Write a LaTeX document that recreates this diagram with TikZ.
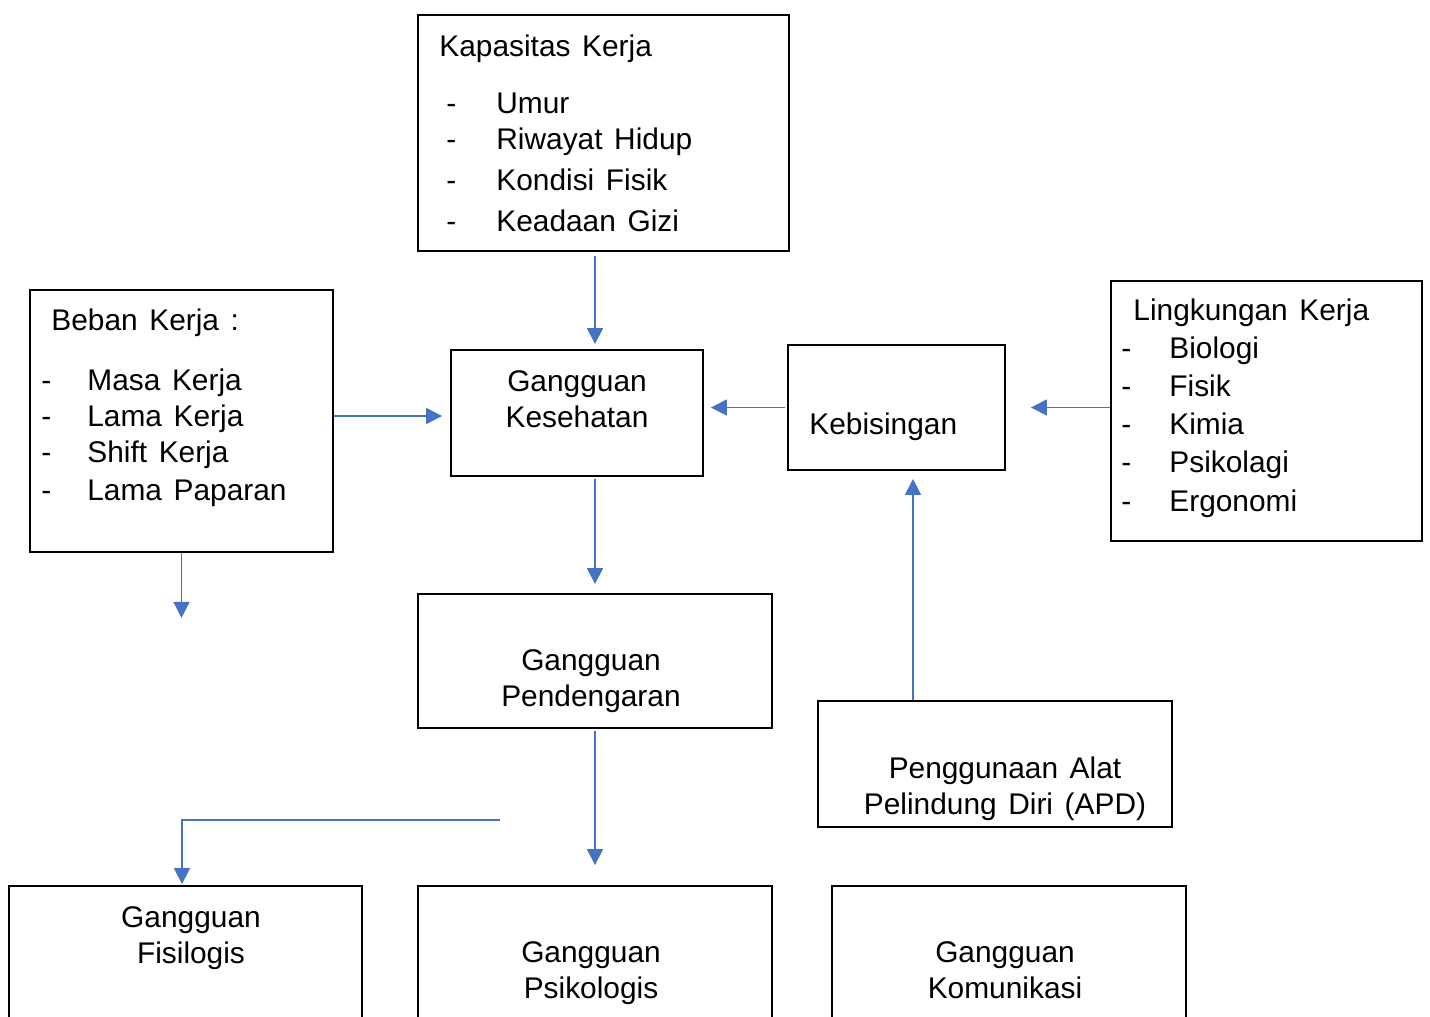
\documentclass[tikz,border=0pt]{standalone}
\usepackage{fontspec}
\setmainfont{Liberation Sans}[WordSpace=1.4]
\usetikzlibrary{positioning, arrows.meta}
\definecolor{arrblue}{HTML}{4472C4}
\tikzset{
    box/.style={rectangle, draw=black, line width=1.1pt, inner sep=0pt},
    txt/.style={font=\fontsize{17}{20.5}\selectfont, inner sep=0pt},
    arr/.style={draw=arrblue, line width=0.9pt, -{Triangle[length=0.32cm, width=0.32cm]}},
}
\newcommand{\dashitem}[2][0.96cm]{\makebox[#1][l]{-}#2}

\begin{document}
\begin{tikzpicture}[x=0.02cm, y=-0.02cm]
        \clip (0,0) rectangle (1430,1017);
        % boxes
        \node [box, minimum width=7.42cm, minimum height=4.72cm] (kap) at (603.5,133) {};
        \node [box, minimum width=6.06cm, minimum height=5.24cm] (beban) at (181.5,421) {};
        \node [box, minimum width=5.04cm, minimum height=2.52cm] (kes) at (577,413) {};
        \node [box, minimum width=4.34cm, minimum height=2.5cm] (bising) at (896.5,407.5) {};
        \node [box, minimum width=6.22cm, minimum height=5.2cm] (ling) at (1266.5,411) {};
        \node [box, minimum width=7.08cm, minimum height=2.68cm] (dengar) at (595,661) {};
        \node [box, minimum width=7.08cm, minimum height=2.52cm] (apd) at (995,764) {};
        \node [box, minimum width=7.06cm, minimum height=3.2cm] (fisio) at (185.5,966) {};
        \node [box, minimum width=7.08cm, minimum height=3.2cm] (psiko) at (595,966) {};
        \node [box, minimum width=7.08cm, minimum height=3.2cm] (komun) at (1009,966) {};
        % texts
        \node [txt, align=left, anchor=north west] (kapT) at ([xshift=0.44cm, yshift=-0.4cm]kap.north west)
            {Kapasitas Kerja\\[0.42cm]
             \hspace*{0.14cm}\dashitem[1cm]{Umur}\\
             \hspace*{0.14cm}\dashitem[1cm]{Riwayat Hidup}\\[0.1cm]
             \hspace*{0.14cm}\dashitem[1cm]{Kondisi Fisik}\\[0.1cm]
             \hspace*{0.14cm}\dashitem[1cm]{Keadaan Gizi}};
        \node [txt, align=left, anchor=north west] (bebanT) at ([xshift=0.24cm, yshift=-0.38cm]beban.north west)
            {\hspace*{0.2cm}Beban Kerja :\\[0.48cm]
             \dashitem[0.92cm]{Masa Kerja}\\
             \dashitem[0.92cm]{Lama Kerja}\\
             \dashitem[0.92cm]{Shift Kerja}\\[0.04cm]
             \dashitem[0.92cm]{Lama Paparan}};
        \node [txt, align=left, anchor=north west] (lingT) at ([xshift=0.22cm, yshift=-0.36cm]ling.north west)
            {\hspace*{0.24cm}Lingkungan Kerja\\[0.04cm]
             \dashitem{Biologi}\\[0.05cm]
             \dashitem{Fisik}\\[0.04cm]
             \dashitem{Kimia}\\[0.04cm]
             \dashitem{Psikolagi}\\[0.06cm]
             \dashitem{Ergonomi}};
        \node [txt, align=center] (kesT) at ([yshift=0.28cm]kes.center) {Gangguan\\Kesehatan};
        \node [txt, anchor=west] (bisingT) at ([xshift=0.44cm, yshift=-0.39cm]bising.west) {Kebisingan};
        \node [txt, align=center] (dengarT) at ([xshift=-0.08cm, yshift=-0.4cm]dengar.center) {Gangguan\\Pendengaran};
        \node [txt, align=center] (apdT) at ([xshift=0.2cm, yshift=-0.49cm]apd.center) {Penggunaan Alat\\Pelindung Diri (APD)};
        \node [txt, align=center] (fisioT) at ([xshift=0.11cm, yshift=0.55cm]fisio.center) {Gangguan\\Fisilogis};
        \node [txt, align=center] (psikoT) at ([xshift=-0.08cm, yshift=-0.15cm]psiko.center) {Gangguan\\Psikologis};
        \node [txt, align=center] (komunT) at ([xshift=-0.08cm, yshift=-0.09cm]komun.center) {Gangguan\\Komunikasi};
        % free ends
        \coordinate [below=1.3cm of beban.south] (bebanEnd);
        \coordinate (elbow) at (500,820);
        % arrows
        \draw[arr, shorten <=0.08cm, shorten >=0.1cm] (kap.south -| dengar) -- (kes.north -| dengar);
        \draw[arr, shorten <=0.04cm, shorten >=0.18cm] (kes.south -| dengar) -- (dengar.north);
        \draw[arr, shorten <=0.04cm, shorten >=0.4cm] (dengar.south) -- (psiko.north);
        \draw[arr, shorten >=0.16cm] ([yshift=0.1cm]beban.east) -- ([yshift=0.1cm]beban.east -| kes.west);
        \draw[arr, shorten <=0.04cm, shorten >=0.14cm] (bising.west) -- (bising.west -| kes.east);
        \draw[arr, shorten >=0.5cm] (ling.west |- bising.east) -- (bising.east);
        \draw[arr, shorten >=0.16cm] ([xshift=-1.64cm]apd.north) -- ([xshift=-1.64cm]apd.north |- bising.south);
        \draw[arr] (beban.south) -- (bebanEnd);
        \draw[arr, shorten >=0.02cm] (elbow) -| ([xshift=-0.07cm]fisio.north);
    \end{tikzpicture}
\end{document}
